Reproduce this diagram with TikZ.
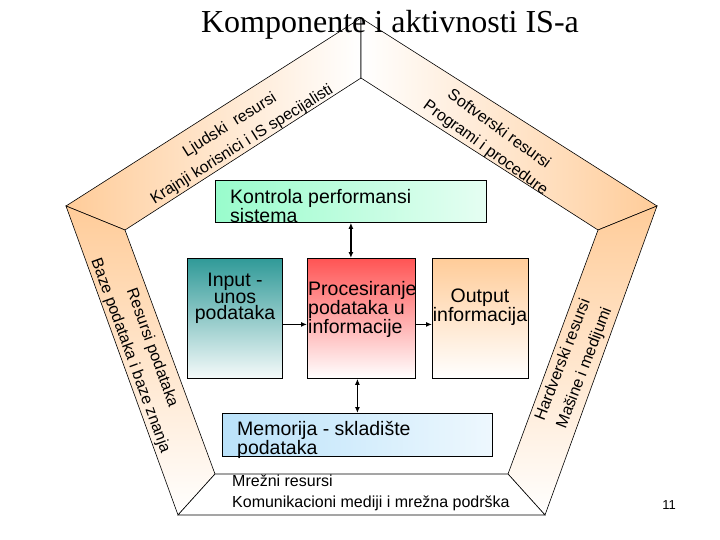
\documentclass[tikz,border=0pt]{standalone}
\usepackage{fontspec}
\setmainfont{Liberation Serif}
\setsansfont{Liberation Sans}
\usetikzlibrary{arrows.meta,positioning}
\definecolor{peach}{RGB}{255,204,153}
\definecolor{tealbox}{RGB}{48,154,152}
\definecolor{redbox}{RGB}{255,84,84}
\definecolor{mint}{RGB}{153,252,204}
\definecolor{sky}{RGB}{186,226,250}

\begin{document}
\begin{tikzpicture}[x=1pt,y=-1pt,>={Latex[length=6pt,width=5pt]},
  band/.style={draw=black,line width=0.6pt},
  bandtext/.style={font=\sffamily\fontsize{16}{23}\selectfont,align=center,inner sep=0pt},
  box/.style={draw=black,line width=0.8pt,anchor=north west,inner sep=0pt},
  boxtext/.style={font=\sffamily\fontsize{19.5}{16.5}\selectfont,inner sep=0pt,anchor=north},
  link/.style={->,line width=1.6pt}]
\useasboundingbox (0,0) rectangle (720,540);
% corners of the pentagon, outer and inner
\coordinate (T) at (361,18); \coordinate (L) at (66,206); \coordinate (R) at (657,206);
\coordinate (BL) at (178,515); \coordinate (BR) at (545,515);
\coordinate (t) at (361,78); \coordinate (l) at (125,230); \coordinate (r) at (598,230);
\coordinate (bl) at (215,474); \coordinate (br) at (508,474);
\draw[band,left color=peach,right color=white] (T) -- (L) -- (l) -- (t) -- cycle;
\draw[band,left color=white,right color=peach] (T) -- (R) -- (r) -- (t) -- cycle;
\draw[band,top color=peach,bottom color=white] (L) -- (BL) -- (bl) -- (l) -- cycle;
\draw[band,top color=peach,bottom color=white] (R) -- (BR) -- (br) -- (r) -- cycle;
\draw[band,fill=white] (BL) -- (BR) -- (br) -- (bl) -- cycle;
\node[font=\rmfamily\fontsize{32}{38}\selectfont,anchor=base,inner sep=0pt] (title) at (390,33) {Komponente i aktivnosti IS-a};
% texts in the bands
\node[bandtext,rotate=32] (ljudi) at (236,135) {Ljudski~ resursi\\Krajnji korisnici i IS specijalisti};
\node[bandtext,rotate=-36] (softver) at (492,139) {Softverski resursi\\Programi i procedure};
\node[bandtext,rotate=-70] (podaci) at (141,352) {Resursi podataka\\Baze podataka i baze znanja};
\node[bandtext,rotate=69] (hardver) at (574,364) {Hardverski resursi\\Mašine i medijumi};
\node[font=\sffamily\fontsize{16}{21}\selectfont,align=left,anchor=north west,inner sep=0pt] (mreza) at (232,475) {Mrežni resursi\\Komunikacioni mediji i mrežna podrška};
% boxes
\node[box,minimum width=271pt,minimum height=42pt,left color=mint,right color=mint!25] (kontrola) at (215,180) {};
\node[boxtext,anchor=north west,align=left] (kontrolatext) at (230,189) {Kontrola performansi\\sistema};
\node[box,minimum width=95pt,minimum height=120pt,top color=tealbox,bottom color=tealbox!5] (inp) at (187,258) {};
\node[boxtext,align=center] (inptext) at (235,273) {Input -\\unos\\podataka};
\node[box,minimum width=108pt,minimum height=120pt,top color=redbox,bottom color=white] (proc) at (307,258) {};
\node[boxtext,anchor=north west,align=left] (proctext) at (308,281) {Procesiranje\\podataka u\\informacije};
\node[box,minimum width=96pt,minimum height=120pt,top color=peach,bottom color=white] (outp) at (432,258) {};
\node[boxtext,align=center] (outptext) at (480,289) {Output\\informacija};
\node[box,minimum width=270pt,minimum height=43pt,left color=sky,right color=sky!25] (mem) at (222,413) {};
\node[boxtext,anchor=north west,align=left] (memtext) at (237,421) {Memorija - skladište\\podataka};
% connectors
\draw[<->,line width=1.6pt] (kontrola.south) -- (kontrola.south |- proc.north);
\draw[<->,line width=1.6pt] (mem.north) -- (mem.north |- proc.south);
\draw[link] ([yshift=-6pt]inp.east) -- ([yshift=-6pt]proc.west);
\draw[link] ([yshift=-6pt]proc.east) -- ([yshift=-6pt]outp.west);
\node[font=\sffamily\fontsize{13}{15}\selectfont,anchor=base] (page) at (669,509) {11};
\end{tikzpicture}
\end{document}
